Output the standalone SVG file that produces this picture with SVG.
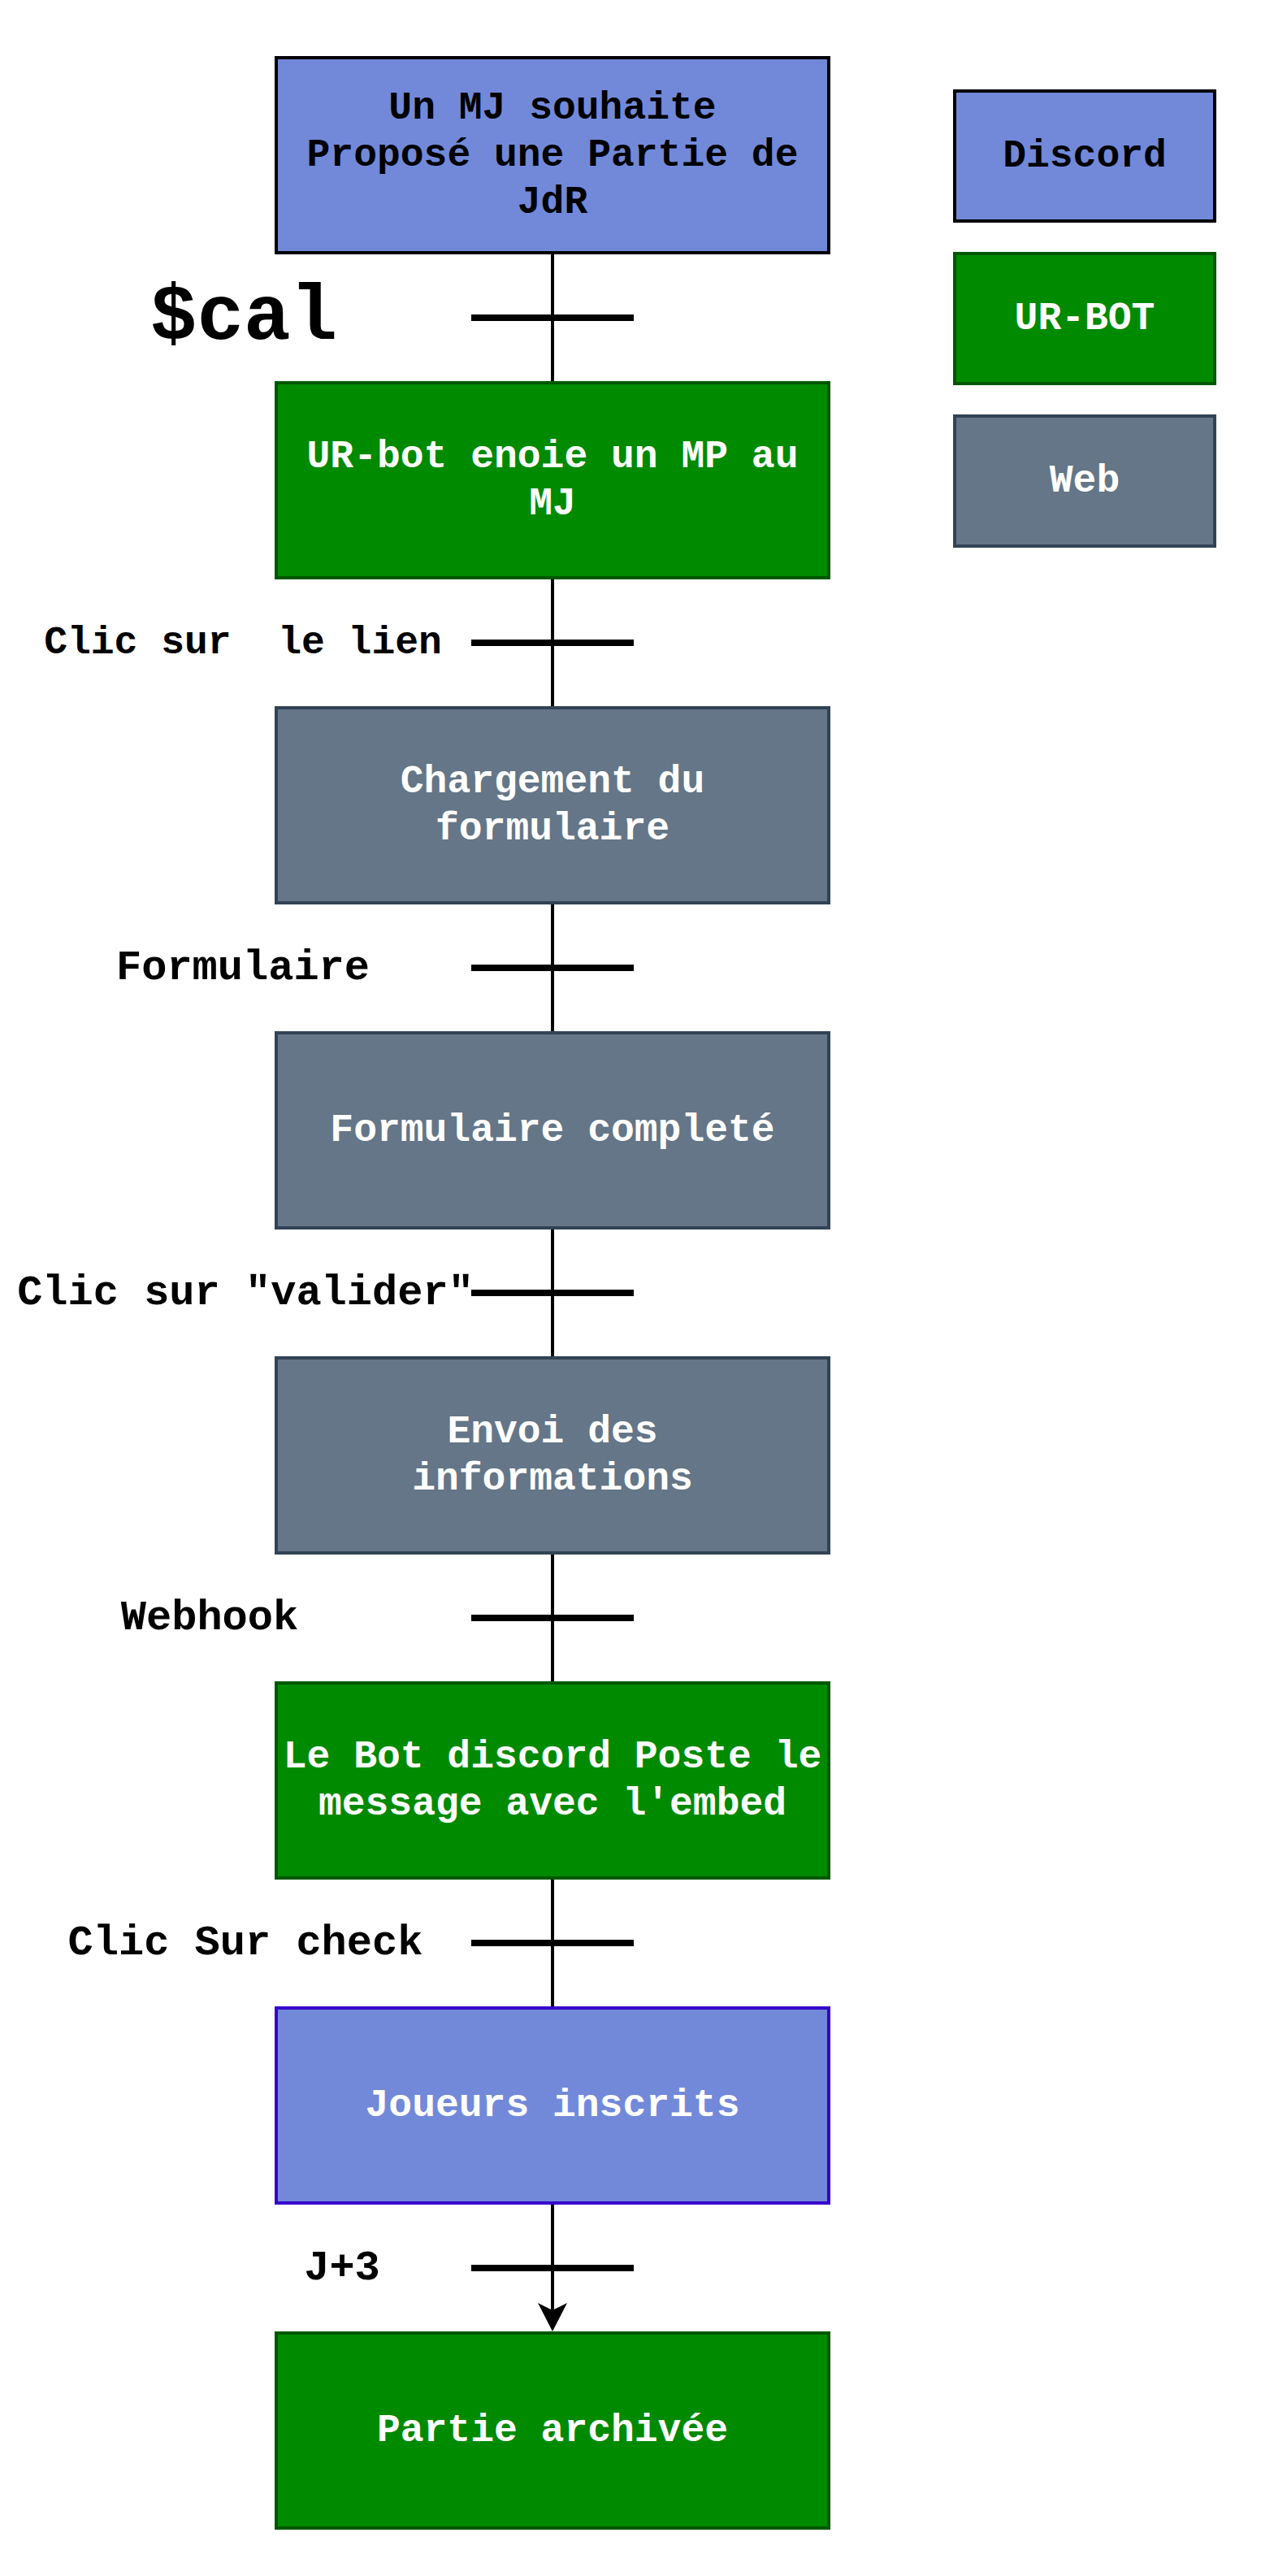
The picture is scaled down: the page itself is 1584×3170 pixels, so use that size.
<svg xmlns="http://www.w3.org/2000/svg" width="1584" height="3170" viewBox="0 0 1584 3170">
<defs>
<style>
text{font-family:"Liberation Mono","Courier New",monospace;font-weight:bold;font-size:48px;text-anchor:middle}
.w{fill:#ffffff}
.k{fill:#000000}
.lab{font-size:52px;fill:#000000}
.discord{fill:#7289DA;stroke:#000000;stroke-width:4}
.discord2{fill:#7289DA;stroke:#3700CC;stroke-width:4}
.bot{fill:#008A00;stroke:#005700;stroke-width:4}
.web{fill:#647687;stroke:#314354;stroke-width:4}
.conn{stroke:#000000;stroke-width:4;fill:none}
.tick{stroke:#000000;stroke-width:8;fill:none}
</style>
<marker id="arrow" markerUnits="userSpaceOnUse" markerWidth="40" markerHeight="40" viewBox="0 0 40 40" refX="11" refY="20" orient="auto">
<path d="M0,2 L35,20 L0,38 L9,20 Z" fill="#000000"/>
</marker>
</defs>
<rect width="1584" height="3170" fill="#ffffff"/>
<g id="connectors">
<line class="conn" x1="680" y1="311" x2="680" y2="471"/>
<line class="conn" x1="680" y1="711" x2="680" y2="871"/>
<line class="conn" x1="680" y1="1111" x2="680" y2="1271"/>
<line class="conn" x1="680" y1="1511" x2="680" y2="1671"/>
<line class="conn" x1="680" y1="1911" x2="680" y2="2071"/>
<line class="conn" x1="680" y1="2311" x2="680" y2="2471"/>
<line class="conn" x1="680" y1="2711" x2="680" y2="2845" marker-end="url(#arrow)"/>
</g>
<g id="ticks">
<line class="tick" x1="580" y1="391" x2="780" y2="391"/>
<line class="tick" x1="580" y1="791" x2="780" y2="791"/>
<line class="tick" x1="580" y1="1191" x2="780" y2="1191"/>
<line class="tick" x1="580" y1="1591" x2="780" y2="1591"/>
<line class="tick" x1="580" y1="1991" x2="780" y2="1991"/>
<line class="tick" x1="580" y1="2391" x2="780" y2="2391"/>
<line class="tick" x1="580" y1="2791" x2="780" y2="2791"/>
</g>
<g id="labels">
<text class="k" x="300" y="417" style="font-size:96px">$cal</text>
<text class="k" x="299" y="804" style="white-space:pre">Clic sur  le lien</text>
<text class="lab" x="299" y="1205">Formulaire</text>
<text class="lab" x="302" y="1605">Clic sur "valider"</text>
<text class="lab" x="258" y="2005">Webhook</text>
<text class="lab" x="302" y="2405">Clic Sur check</text>
<text class="lab" x="421" y="2805">J+3</text>
</g>
<g id="node-mj">
<rect class="discord" x="340" y="71" width="680" height="240"/>
<text class="k" x="680" y="146.4">Un MJ souhaite</text>
<text class="k" x="680" y="204">Proposé une Partie de</text>
<text class="k" x="680" y="261.6">JdR</text>
</g>
<g id="node-mp">
<rect class="bot" x="340" y="471" width="680" height="240"/>
<text class="w" x="680" y="575.2">UR-bot enoie un MP au</text>
<text class="w" x="680" y="632.8">MJ</text>
</g>
<g id="node-chargement">
<rect class="web" x="340" y="871" width="680" height="240"/>
<text class="w" x="680" y="975.2">Chargement du</text>
<text class="w" x="680" y="1032.8">formulaire</text>
</g>
<g id="node-complete">
<rect class="web" x="340" y="1271" width="680" height="240"/>
<text class="w" x="680" y="1404">Formulaire completé</text>
</g>
<g id="node-envoi">
<rect class="web" x="340" y="1671" width="680" height="240"/>
<text class="w" x="680" y="1775.2">Envoi des</text>
<text class="w" x="680" y="1832.8">informations</text>
</g>
<g id="node-poste">
<rect class="bot" x="340" y="2071" width="680" height="240"/>
<text class="w" x="680" y="2175.2">Le Bot discord Poste le</text>
<text class="w" x="680" y="2232.8">message avec l'embed</text>
</g>
<g id="node-joueurs">
<rect class="discord2" x="340" y="2471" width="680" height="240"/>
<text class="w" x="680" y="2604">Joueurs inscrits</text>
</g>
<g id="node-archive">
<rect class="bot" x="340" y="2871" width="680" height="240"/>
<text class="w" x="680" y="3004">Partie archivée</text>
</g>
<g id="legend-discord">
<rect class="discord" x="1175" y="112" width="320" height="160"/>
<text class="k" x="1335" y="205">Discord</text>
</g>
<g id="legend-urbot">
<rect class="bot" x="1175" y="312" width="320" height="160"/>
<text class="w" x="1335" y="405">UR-BOT</text>
</g>
<g id="legend-web">
<rect class="web" x="1175" y="512" width="320" height="160"/>
<text class="w" x="1335" y="605">Web</text>
</g>
</svg>
